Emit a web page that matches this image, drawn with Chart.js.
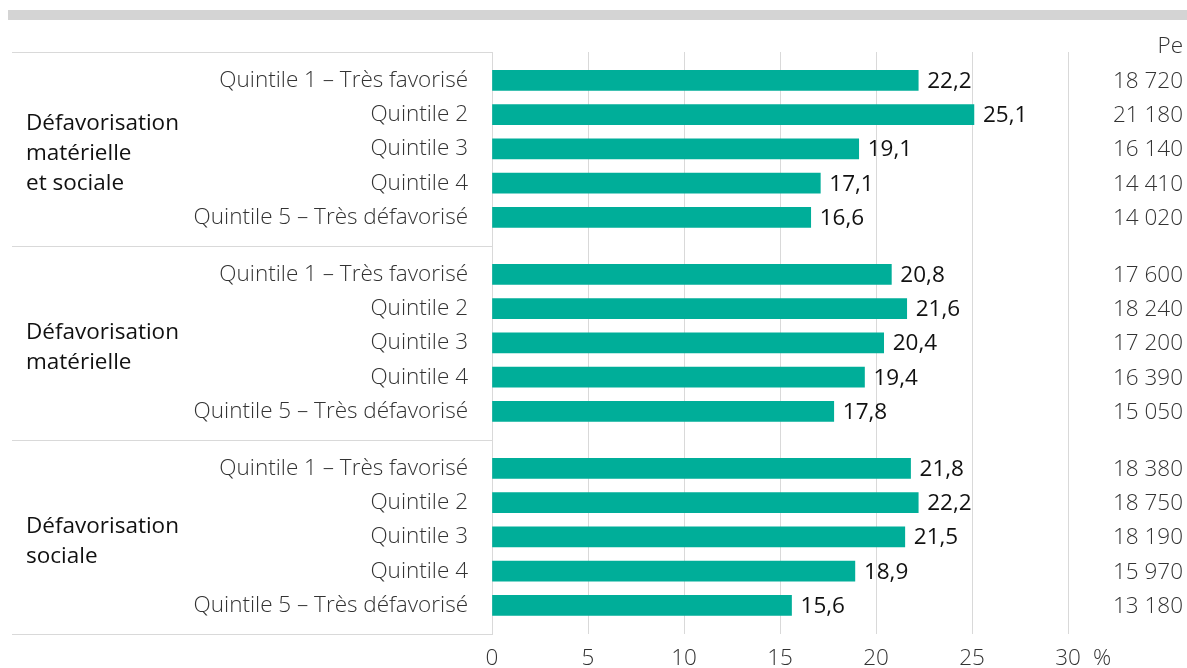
<!DOCTYPE html>
<html lang="fr">
<head>
<meta charset="utf-8">
<script src="https://cdn.jsdelivr.net/npm/chart.js@4/dist/chart.umd.min.js"></script>
<style>
  body { margin: 0; background: #fff; }
  #wrap { position: relative; width: 1187px; height: 668px; }
  #topBar { position: absolute; left: 8px; top: 10px; width: 1179px; height: 10px; background: #d4d4d4; }
  canvas { display: block; }
</style>
</head>
<body>
<div id="wrap">
  <div id="topBar"></div>
  <canvas id="quintileChart" width="1187" height="668"></canvas>
</div>
<script>
// Données
const groupes = [
  ["Défavorisation", "matérielle", "et sociale"],
  ["Défavorisation", "matérielle"],
  ["Défavorisation", "sociale"]
];
const quintiles = [
  "Quintile 1 – Très favorisé",
  "Quintile 2",
  "Quintile 3",
  "Quintile 4",
  "Quintile 5 – Très défavorisé"
];
const pourcentMaterielleSociale = [22.2, 25.1, 19.1, 17.1, 16.6];
const pourcentMaterielle = [20.8, 21.6, 20.4, 19.4, 17.8];
const pourcentSociale = [21.8, 22.2, 21.5, 18.9, 15.6];
const effectifMaterielleSociale = ["18 720", "21 180", "16 140", "14 410", "14 020"];
const effectifMaterielle = ["17 600", "18 240", "17 200", "16 390", "15 050"];
const effectifSociale = ["18 380", "18 750", "18 190", "15 970", "13 180"];
const colonneTitre = "Pe";
const xTicks = [0, 5, 10, 15, 20, 25, 30];

const series = [pourcentMaterielleSociale, pourcentMaterielle, pourcentSociale];
const effectifs = [effectifMaterielleSociale, effectifMaterielle, effectifSociale];

// Positions des rangées (en unités de rangée) sur l'axe vertical
const PAS_GROUPE = 5.665;
const DECALAGE = 0.83;
const Y_MAX = 3 * PAS_GROUPE;
const rowPos = (g, r) => g * PAS_GROUPE + DECALAGE + r;

const points = [];
const labelsParPos = {};
series.forEach((vals, g) => {
  vals.forEach((v, r) => {
    const y = rowPos(g, r);
    points.push({ x: v, y: y, eff: effectifs[g][r] });
    labelsParPos[y.toFixed(3)] = quintiles[r];
  });
});

const fmt = (v) => v.toFixed(1).replace(".", ",");

const tablePlugin = {
  id: "tablePlugin",
  afterDraw(chart) {
    const ctx = chart.ctx;
    const yScale = chart.scales.y;
    const area = chart.chartArea;
    ctx.save();

    // Lignes horizontales du tableau de gauche
    ctx.strokeStyle = "#d9d9d9";
    ctx.lineWidth = 1;
    for (let g = 0; g <= 3; g++) {
      const py = Math.round(yScale.getPixelForValue(g * PAS_GROUPE)) + 0.5;
      ctx.beginPath();
      ctx.moveTo(12, py);
      ctx.lineTo(area.left, py);
      ctx.stroke();
    }

    // Libellés des groupes
    ctx.fillStyle = "#111";
    ctx.font = "400 22.5px 'Open Sans'";
    ctx.textAlign = "left";
    ctx.textBaseline = "middle";
    groupes.forEach((lignes, g) => {
      const centre = yScale.getPixelForValue(g * PAS_GROUPE + PAS_GROUPE / 2);
      const h = 30;
      const y0 = centre - ((lignes.length - 1) * h) / 2 + 5;
      lignes.forEach((t, i) => ctx.fillText(t, 26, y0 + i * h));
    });

    // Valeurs au bout des barres
    const meta = chart.getDatasetMeta(0);
    ctx.font = "400 22.5px 'Open Sans'";
    ctx.fillStyle = "#111";
    meta.data.forEach((bar, i) => {
      ctx.fillText(fmt(points[i].x), bar.x + 9, bar.y + 1);
    });

    // Colonne de droite
    ctx.textAlign = "right";
    ctx.font = "300 22.5px 'Open Sans'";
    ctx.fillStyle = "#333";
    ctx.fillText(colonneTitre, 1183, 47);
    points.forEach((p) => {
      ctx.fillText(p.eff, 1183, yScale.getPixelForValue(p.y) + 1);
    });

    // Unité de l'axe
    ctx.textAlign = "left";
    ctx.fillText("%", 1093, 659);
    ctx.restore();
  }
};

const ctx = document.getElementById("quintileChart").getContext("2d");
new Chart(ctx, {
  type: "bar",
  data: {
    datasets: [
      {
        data: points,
        backgroundColor: "#00ae99",
        borderWidth: 0,
        barThickness: 20
      }
    ]
  },
  options: {
    indexAxis: "y",
    responsive: false,
    animation: false,
    layout: { padding: { left: 0, right: 119, top: 52, bottom: 0 } },
    plugins: {
      legend: { display: false },
      tooltip: { enabled: false }
    },
    scales: {
      x: {
        type: "linear",
        min: 0,
        max: 30,
        afterBuildTicks: (s) => { s.ticks = xTicks.map((v) => ({ value: v })); },
        afterFit: (s) => { s.height = 34; s.paddingLeft = 0; s.paddingRight = 0; },
        grid: { color: "#d9d9d9", drawTicks: false },
        border: { display: false },
        ticks: {
          padding: 13,
          color: "#333",
          font: { family: "Open Sans", size: 22.5, weight: 300, lineHeight: 1 }
        }
      },
      y: {
        type: "linear",
        reverse: true,
        offset: false,
        min: 0,
        max: Y_MAX,
        afterBuildTicks: (s) => {
          s.ticks = Object.keys(labelsParPos).map((k) => ({ value: parseFloat(k) }));
        },
        afterFit: (s) => { s.width = 492; s.paddingTop = 0; s.paddingBottom = 0; },
        grid: { display: false, drawTicks: false, offset: false },
        border: { display: true, color: "#d9d9d9" },
        ticks: {
          autoSkip: false,
          padding: 24,
          color: "#333",
          font: { family: "Open Sans", size: 22.5, weight: 300 },
          callback: (v) => labelsParPos[Number(v).toFixed(3)] || ""
        }
      }
    }
  },
  plugins: [tablePlugin]
});
</script>
</body>
</html>
